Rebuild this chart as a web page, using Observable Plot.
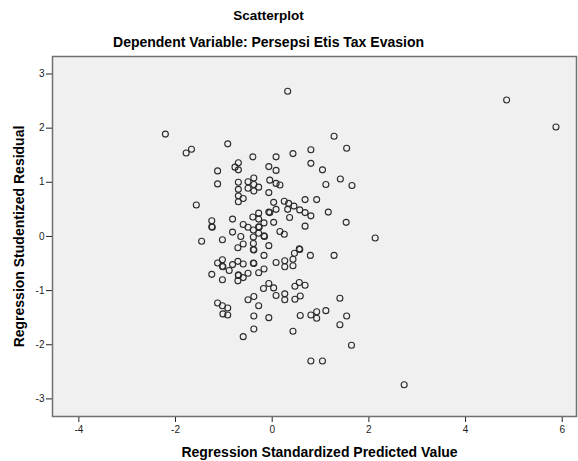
<!DOCTYPE html>
<html>
<head>
<meta charset="utf-8">
<script src="https://cdn.jsdelivr.net/npm/d3@7"></script>
<script src="https://cdn.jsdelivr.net/npm/@observablehq/plot@0.6"></script>
<style>
  html, body { margin: 0; padding: 0; background: #fff; }
  #chart svg { display: block; }
</style>
</head>
<body>
<div id="chart"></div>
<script>
const titleText = "Scatterplot";
const subtitleText = "Dependent Variable: Persepsi Etis Tax Evasion";
const xLabel = "Regression Standardized Predicted Value";
const yLabel = "Regression Studentized Residual";
const xTicks = [-4, -2, 0, 2, 4, 6];
const yTicks = [-3, -2, -1, 0, 1, 2, 3];

// Regression Standardized Predicted Value
const predicted = [
  0.32, 4.85, 5.87, -2.21, 1.28, -0.92, -1.67, -1.78, 1.54, 0.80,
  0.43, -0.40, 0.08, -0.70, -0.77, -0.70, -1.13, -0.07, 0.08, 0.80,
  1.04, 1.41, 1.11, 1.65, -1.13, -0.70, -0.50, -0.38, -0.38, -0.28,
  -0.05, 0.08, 0.16, -0.70, -0.50, -0.38, -0.07, -0.70, -0.60, -0.70,
  0.03, -1.57, 0.25, 0.34, 0.45, 0.57, 0.68, 0.80, 0.68, 0.92,
  0.08, 0.32, -0.07, -0.05, 0.36, 1.16, 1.53, 0.68, -0.28, -0.40,
  -0.28, -0.82, -1.25, -1.25, -1.24, -0.60, -0.50, -0.39, -0.28, -0.27,
  -0.17, 0.03, -0.17, -0.16, -0.28, -0.39, -0.82, -0.65, 0.16, 0.25,
  2.13, -1.46, -1.03, -0.60, -0.39, -0.71, -0.39, -0.38, -0.07, 0.56,
  0.57, 0.46, 0.79, 1.28, -0.17, 0.08, 0.26, 0.43, 0.26, 0.43,
  -1.13, -1.03, -1.03, -1.02, -0.89, -0.82, -0.71, -0.60, -0.39, -0.38,
  -0.17, -0.28, -0.50, -0.60, -0.70, -0.70, -1.25, -0.71, -1.03, -0.07,
  -0.18, 0.03, 0.08, 0.26, 0.26, 0.47, 0.56, 0.68, 0.47, 0.58,
  1.40, -1.13, -1.03, -0.92, -1.02, -0.92, -0.50, -0.38, -0.28, -0.38,
  -0.07, 0.58, 0.80, 0.92, 0.92, 1.11, 1.54, 1.40, -0.38, -0.60,
  0.43, 1.64, 0.80, 1.04, 2.73
];

// Regression Studentized Residual
const residual = [
  2.68, 2.52, 2.02, 1.89, 1.85, 1.71, 1.61, 1.54, 1.63, 1.60,
  1.53, 1.47, 1.47, 1.36, 1.28, 1.23, 1.21, 1.29, 1.22, 1.35,
  1.23, 1.06, 0.96, 0.94, 0.97, 1.00, 1.01, 1.08, 0.96, 0.91,
  1.04, 0.98, 0.95, 0.87, 0.89, 0.84, 0.81, 0.75, 0.70, 0.64,
  0.63, 0.58, 0.65, 0.61, 0.56, 0.49, 0.44, 0.38, 0.68, 0.68,
  0.50, 0.50, 0.45, 0.44, 0.35, 0.45, 0.26, 0.19, 0.43, 0.36,
  0.32, 0.32, 0.29, 0.18, 0.17, 0.22, 0.17, 0.12, 0.18, 0.17,
  0.25, 0.26, 0.01, 0.00, 0.06, -0.01, 0.08, 0.00, 0.09, 0.04,
  -0.03, -0.09, -0.06, -0.14, -0.13, -0.21, -0.24, -0.25, -0.17, -0.23,
  -0.24, -0.31, -0.35, -0.35, -0.35, -0.48, -0.45, -0.42, -0.56, -0.54,
  -0.49, -0.43, -0.55, -0.56, -0.63, -0.52, -0.46, -0.51, -0.49, -0.50,
  -0.60, -0.67, -0.68, -0.76, -0.71, -0.72, -0.70, -0.82, -0.80, -0.87,
  -0.96, -0.95, -1.09, -1.06, -1.17, -0.92, -0.85, -0.90, -1.16, -1.10,
  -1.14, -1.23, -1.28, -1.32, -1.43, -1.45, -1.17, -1.11, -1.28, -1.47,
  -1.50, -1.46, -1.45, -1.39, -1.51, -1.37, -1.47, -1.63, -1.71, -1.85,
  -1.75, -2.01, -2.30, -2.30, -2.74
];

const points = predicted.map((x, i) => ({x, y: residual[i]}));
const font = "'Liberation Sans', Arial, Helvetica, sans-serif";

const chart = Plot.plot({
  width: 578,
  height: 461,
  marginLeft: 52,
  marginRight: 2,
  marginTop: 56,
  marginBottom: 45,
  style: {fontFamily: font, color: "#222", background: "#fff", overflow: "visible"},
  x: {domain: [-4.545, 6.295]},
  y: {domain: [-3.325, 3.323]},
  marks: [
    Plot.frame({fill: "#f0f0f0", stroke: "none"}),
    Plot.axisX({ticks: xTicks, tickSize: 6, tickPadding: 3, fontSize: 10, label: null, tickFormat: d => d < 0 ? "-" + Math.abs(d) : String(d)}),
    Plot.axisY({ticks: yTicks, tickSize: 6, tickPadding: 2, fontSize: 10, label: null, tickFormat: d => d < 0 ? "-" + Math.abs(d) : String(d)}),
    Plot.dot(points, {x: "x", y: "y", r: 3, stroke: "#2a2a2a", strokeWidth: 1.1, fill: "none"}),
    Plot.frame({stroke: "#707070", strokeWidth: 1.5, fill: "none"}),
    Plot.text([titleText], {frameAnchor: "top", dx: -46, dy: -37, fontSize: 13.5, fontWeight: "bold", fill: "#000", lineAnchor: "bottom"}),
    Plot.text([subtitleText], {frameAnchor: "top", dx: -46, dy: -10, fontSize: 14, fontWeight: "bold", fill: "#000", lineAnchor: "bottom"}),
    Plot.text([xLabel], {frameAnchor: "bottom", dx: 5, dy: 40.5, fontSize: 14, fontWeight: "bold", fill: "#000", lineAnchor: "bottom"}),
    Plot.text([yLabel], {frameAnchor: "left", dx: -33, rotate: -90, fontSize: 14, fontWeight: "bold", fill: "#000", lineAnchor: "middle", textAnchor: "middle"})
  ]
});
document.getElementById("chart").appendChild(chart);
</script>
</body>
</html>
